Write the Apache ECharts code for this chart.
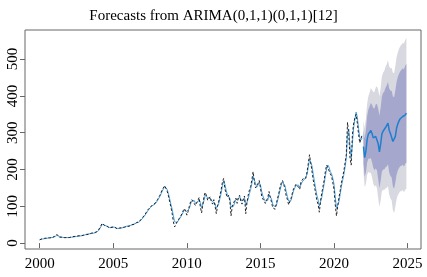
<!DOCTYPE html>
<html lang="en" style="height: 100%">
<head>
  <meta charset="utf-8">
</head>
<body style="height: 100%; margin: 0">
  <div id="container" style="width: 427px; height: 277px"></div>

  <script type="text/javascript" src="https://fastly.jsdelivr.net/npm/echarts@6.0.0/dist/echarts.min.js"></script>
  <script type="text/javascript">
// monthly series, Jan 2000 .. Dec 2021
var actual = [
  9, 10, 12, 11, 13, 12, 14, 15, 14, 16, 15, 17,
  18, 20, 24, 19, 16, 15, 16, 14, 15, 14, 15, 14,
  15, 16, 17, 16, 18, 17, 19, 18, 20, 19, 20, 21,
  22, 24, 23, 25, 24, 26, 27, 26, 28, 29, 30, 32,
  36, 42, 48, 54, 50, 47, 44, 46, 42, 41, 44, 43,
  42, 44, 40, 39, 38, 41, 40, 42, 44, 43, 46, 45,
  47, 46, 48, 50, 52, 51, 54, 56, 55, 58, 62, 66,
  70, 74, 78, 84, 90, 94, 97, 100, 104, 102, 108, 112,
  118, 124, 130, 138, 146, 150, 156, 148, 140, 128, 112, 98,
  80, 58, 44, 50, 58, 62, 68, 74, 80, 88, 94, 86,
  76, 86, 100, 112, 118, 122, 108, 102, 110, 116, 124, 98,
  82, 104, 128, 138, 128, 116, 120, 126, 112, 106, 118, 100,
  80, 100, 114, 130, 146, 166, 176, 148, 134, 124, 130, 116,
  74, 100, 96, 116, 122, 108, 124, 130, 114, 106, 120, 128,
  80, 110, 130, 144, 154, 172, 194, 168, 150, 146, 162, 170,
  150, 128, 120, 114, 108, 106, 124, 140, 124, 112, 96, 92,
  92, 108, 122, 136, 152, 164, 170, 160, 146, 128, 118, 104,
  100, 122, 136, 148, 154, 160, 164, 152, 146, 166, 170, 176,
  180, 176, 194, 216, 240, 218, 196, 172, 154, 136, 116, 106,
  84, 114, 136, 154, 172, 196, 212, 216, 196, 188, 182, 164,
  146, 104, 74, 100, 124, 142, 164, 180, 196, 218, 240, 328,
  296, 232, 212, 296, 326, 340, 350, 326, 296, 272, 284, 294
];
var fitted = [
  9, 10, 11, 12, 12, 13, 13, 14, 15, 15, 15, 16,
  17, 19, 21, 21, 18, 16, 16, 15, 15, 15, 15, 15,
  15, 15, 16, 17, 17, 18, 18, 19, 19, 20, 20, 21,
  21, 23, 24, 24, 25, 25, 26, 27, 27, 28, 29, 31,
  34, 39, 45, 51, 52, 49, 46, 45, 44, 42, 43, 44,
  43, 43, 42, 40, 39, 40, 40, 41, 43, 44, 45, 46,
  46, 47, 47, 49, 51, 52, 53, 55, 56, 57, 60, 64,
  68, 72, 76, 81, 87, 92, 96, 99, 102, 103, 106, 110,
  115, 121, 127, 134, 142, 148, 154, 152, 145, 134, 120, 105,
  92, 74, 58, 54, 56, 61, 66, 71, 77, 84, 90, 90,
  86, 86, 94, 106, 114, 119, 116, 108, 106, 112, 118, 110,
  96, 98, 116, 130, 132, 124, 120, 122, 118, 112, 114, 108,
  94, 96, 108, 122, 136, 156, 168, 160, 144, 132, 128, 122,
  98, 96, 100, 110, 118, 116, 120, 126, 122, 114, 116, 122,
  102, 104, 120, 134, 146, 162, 182, 180, 162, 152, 156, 164,
  158, 140, 128, 120, 114, 110, 116, 132, 132, 120, 106, 100,
  98, 102, 116, 130, 144, 158, 166, 166, 156, 140, 126, 114,
  110, 116, 130, 142, 150, 156, 160, 158, 152, 158, 166, 170,
  174, 178, 186, 206, 228, 228, 210, 188, 168, 148, 130, 118,
  100, 104, 124, 144, 162, 184, 202, 212, 206, 194, 188, 176,
  160, 126, 94, 92, 112, 132, 154, 170, 186, 206, 230, 296,
  310, 264, 230, 272, 314, 336, 356, 342, 312, 286, 280, 286
];
// forecast, Jan 2022 .. Dec 2024
var fcMean = [
  262, 232, 250, 282, 296, 300, 306, 298, 286, 282, 290, 288,
  270, 248, 268, 296, 304, 306, 314, 318, 326, 306, 298, 296,
  276, 272, 290, 312, 324, 332, 338, 340, 344, 340, 348, 353
];
var lo80 = [
  217, 180, 192, 219, 229, 229, 231, 220, 205, 198, 203, 198,
  174, 150, 168, 194, 200, 200, 206, 208, 214, 192, 182, 178,
  154, 148, 165, 186, 197, 204, 209, 210, 213, 208, 215, 219
];
var hi80 = [
  307, 284, 308, 345, 363, 371, 381, 376, 367, 366, 377, 378,
  366, 346, 368, 398, 408, 412, 422, 428, 438, 420, 414, 414,
  398, 396, 415, 438, 451, 460, 467, 470, 475, 472, 481, 487
];
var lo95 = [
  193, 152, 161, 186, 193, 191, 191, 179, 162, 153, 157, 150,
  123, 98, 115, 140, 145, 144, 149, 150, 155, 132, 121, 116,
  89, 82, 99, 119, 130, 136, 141, 141, 144, 138, 145, 148
];
var hi95 = [
  331, 312, 339, 378, 399, 409, 421, 417, 410, 411, 423, 426,
  417, 398, 421, 452, 463, 468, 479, 486, 497, 480, 475, 476,
  463, 462, 481, 505, 518, 528, 535, 539, 544, 542, 551, 558
];
var xTicks = [2000, 2005, 2010, 2015, 2020, 2025];
var yTicks = [0, 100, 200, 300, 400, 500];

function pairs(start, vals) {
  return vals.map(function (v, i) { return [start + i / 12, v]; });
}

// polygon between lo and hi, placed with the chart's own scales
function band(lo, hi, color) {
  return {
    type: 'custom',
    silent: true,
    data: [[2022, hi[0]]],
    encode: { x: 0, y: 1 },
    renderItem: function (params, api) {
      var pts = [];
      for (var i = 0; i < hi.length; i++) pts.push(api.coord([2022 + i / 12, hi[i]]));
      for (var j = lo.length - 1; j >= 0; j--) pts.push(api.coord([2022 + j / 12, lo[j]]));
      return { type: 'polygon', shape: { points: pts }, style: { fill: color } };
    }
  };
}

var dom = document.getElementById('container');
var myChart = echarts.init(dom, null, { renderer: 'canvas' });
var serif = 'Liberation Serif';

var option = {
  animation: false,
  title: {
    text: 'Forecasts from ARIMA(0,1,1)(0,1,1)[12]',
    left: 'center',
    top: 4,
    textStyle: { fontFamily: serif, fontSize: 15, fontWeight: 'normal', color: '#000' }
  },
  grid: {
    left: 25, right: 6, top: 30, bottom: 28,
    show: true, borderColor: '#666', borderWidth: 1, backgroundColor: '#fff'
  },
  xAxis: {
    type: 'value', min: 1999.0, max: 2025.91,
    axisLine: { show: false },
    splitLine: { show: false },
    axisTick: { show: true, length: 5, customValues: xTicks, lineStyle: { color: '#666' } },
    axisLabel: { customValues: xTicks, margin: 8, fontFamily: serif, fontSize: 15, color: '#000',
      formatter: function (v) { return String(v); } }
  },
  yAxis: {
    type: 'value', min: -16, max: 579,
    axisLine: { show: false },
    splitLine: { show: false },
    axisTick: { show: true, length: 5, customValues: yTicks, lineStyle: { color: '#666' } },
    axisLabel: { customValues: yTicks, rotate: 90, margin: 4, fontFamily: serif, fontSize: 15, color: '#000',
      formatter: function (v) { return String(v); } }
  },
  series: [
    band(lo95, hi95, '#d8d8e0'),
    band(lo80, hi80, '#a5a8cc'),
    { name: 'fitted', type: 'line', data: pairs(2000, fitted), symbol: 'none',
      lineStyle: { color: '#4aa2e0', width: 1 } },
    { name: 'actual', type: 'line', data: pairs(2000, actual), symbol: 'none',
      lineStyle: { color: '#222', width: 1, type: [2.5, 2] } },
    { name: 'forecast', type: 'line', data: pairs(2022, fcMean), symbol: 'none',
      lineStyle: { color: '#1f7ecf', width: 1.5 } }
  ]
};

myChart.setOption(option);
window.addEventListener('resize', myChart.resize);
  </script>
</body>
</html>
